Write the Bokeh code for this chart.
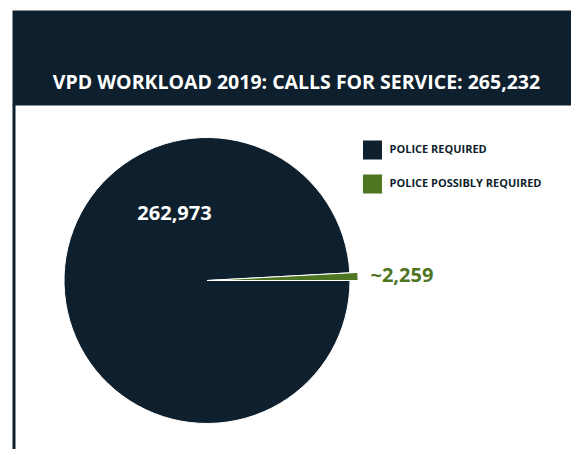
import math
from bokeh.plotting import figure
from bokeh.models import Range1d
from bokeh.core.properties import value
from bokeh.embed import file_html
from bokeh.resources import INLINE

title_text = "VPD WORKLOAD 2019: CALLS FOR SERVICE: 265,232"
categories = ["POLICE POSSIBLY REQUIRED", "POLICE REQUIRED"]
values = [2259, 262973]
value_labels = ["~2,259", "262,973"]
colors = ["#4e7522", "#0e1f2d"]

DARK = "#0e1f2d"
W, H = 571, 449

p = figure(width=W, height=H, output_backend="svg", toolbar_location=None,
           x_range=Range1d(0, W), y_range=Range1d(0, H), min_border=0)
p.axis.visible = False
p.xgrid.visible = False
p.ygrid.visible = False
p.outline_line_color = None
p.background_fill_color = "white"
p.border_fill_color = "white"

def sx(x):
    return x
def sy(y):
    return H - y

# banner and left border
p.quad(left=[sx(12)], right=[W], top=[sy(10)], bottom=[sy(105)], fill_color=DARK, line_color=None)
p.quad(left=[sx(12)], right=[sx(15)], top=[sy(104)], bottom=[0], fill_color=DARK, line_color=None)
p.text(x=[sx(296)], y=[sy(81)], text=[title_text], text_color="white",
       text_font=value("Open Sans"), text_font_style="bold", text_font_size="19.5px",
       text_align="center", text_baseline="middle")

# pie
total = sum(values)
cx, cy = sx(206.5), sy(280)
angles = [v / total * 2 * math.pi for v in values]
starts, ends = [], []
a = 0.0
for ang in angles:
    starts.append(a)
    ends.append(a + ang)
    a += ang
radii = [151, 143]
p.wedge(x=[cx], y=[cy], radius=[radii[1]], start_angle=[starts[1]], end_angle=[ends[1]],
        fill_color=colors[1], line_color="white", line_width=1)
p.wedge(x=[cx], y=[cy], radius=[radii[0]], start_angle=[starts[0]], end_angle=[ends[0]],
        fill_color=colors[0], line_color="white", line_width=1)

# value labels
p.text(x=[sx(174)], y=[sy(212)], text=[value_labels[1]], text_color="white",
       text_font=value("Open Sans"), text_font_style="bold", text_font_size="20px",
       text_align="center", text_baseline="middle")
p.text(x=[sx(370)], y=[sy(274)], text=[value_labels[0]], text_color=colors[0],
       text_font=value("Open Sans"), text_font_style="bold", text_font_size="20px",
       text_align="left", text_baseline="middle")

# legend
leg_y = [149.5, 183.5]
leg_order = [1, 0]
for yy, i in zip(leg_y, leg_order):
    p.rect(x=[sx(372)], y=[sy(yy)], width=19, height=19, fill_color=colors[i], line_color=None)
    p.text(x=[sx(389)], y=[sy(yy - 1.5)], text=[categories[i]], text_color=DARK,
           text_font=value("Open Sans"), text_font_style="bold", text_font_size="11px",
           text_align="left", text_baseline="middle")

open("out.html", "w").write(file_html(p, INLINE))
